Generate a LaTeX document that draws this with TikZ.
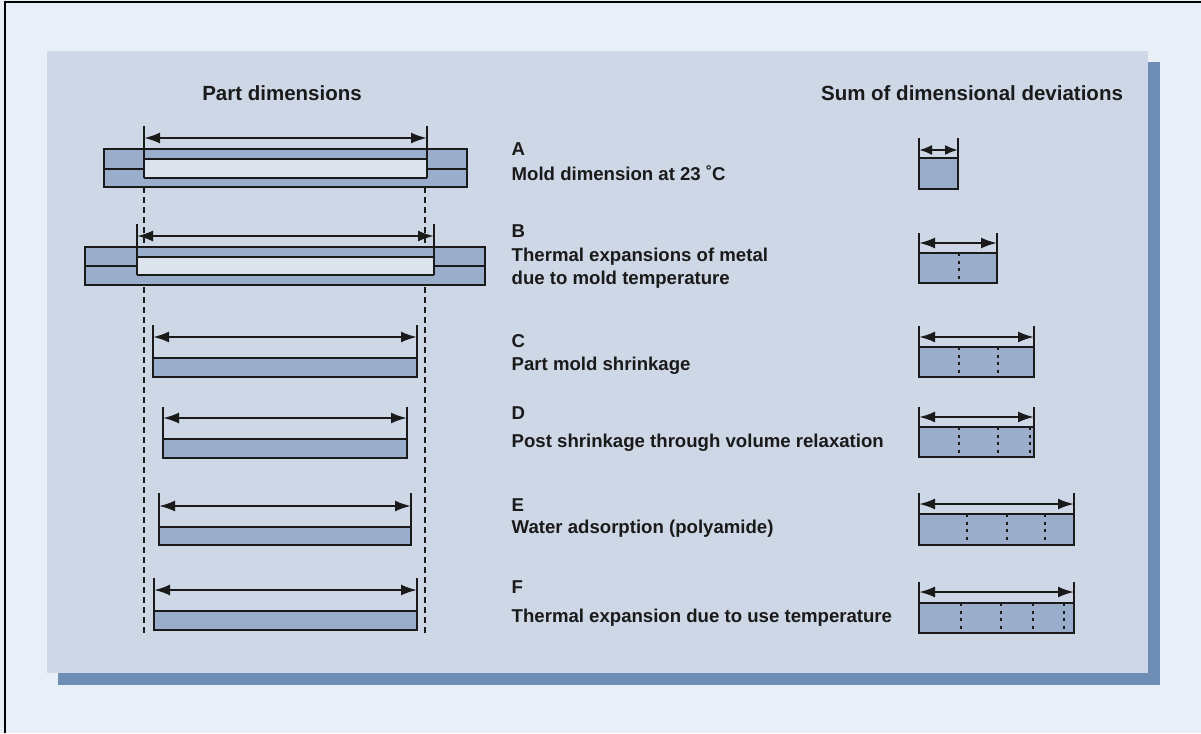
\documentclass[tikz,border=0pt]{standalone}
\usepackage{fontspec}
\setmainfont{Liberation Sans}
\usetikzlibrary{arrows.meta}

\definecolor{pagebg}{HTML}{E9EFF7}
\definecolor{panelbg}{HTML}{CDD7E6}
\definecolor{panelshadow}{HTML}{6F8EB6}
\definecolor{barblue}{HTML}{9AAECB}
\definecolor{cavity}{HTML}{DDE3ED}
\definecolor{ink}{HTML}{1A1A1A}

\tikzset{
  outline/.style={draw=ink, line width=2.2pt, line join=miter},
  extline/.style={draw=ink, line width=2pt},
  guide/.style={draw=ink, line width=2pt, dash pattern=on 6pt off 4pt},
  divider/.style={draw=ink, line width=2.4pt, dash pattern=on 3pt off 4.5pt},
  dimarrow/.style={draw=ink, line width=2.2pt, {Latex[length=16pt,width=11pt]}-{Latex[length=16pt,width=11pt]}},
  smallarrow/.style={draw=ink, line width=2.2pt, {Latex[length=13pt,width=10pt]}-{Latex[length=13pt,width=10pt]}},
  heading/.style={inner sep=0pt, font=\fontsize{20.5}{24}\selectfont\bfseries, text=ink},
  body/.style={inner sep=0pt, font=\fontsize{18.6}{22}\selectfont\bfseries, text=ink, anchor=base west},
}

% Bar with dimension arrow: #1 name, #2 left x, #3 right x, #4 extension top, #5 arrow y, #6 bar top, #7 bar bottom
\newcommand{\DimBar}[8][dimarrow]{%
  \fill[barblue] (#3,#7) rectangle (#4,#8);
  \draw[outline] (#3,#7) -- (#4,#7);
  \draw[outline] (#3,#5) -- (#3,#8) -- (#4,#8) -- (#4,#5);
  \coordinate (#2-l) at (#3,#6);
  \coordinate (#2-r) at (#4,#6);
  \draw[#1] (#2-l) -- (#2-r);
}

% Mould halves: #1/#2 outer x, #3/#4 outer y, #5 parting line y, #6/#7 cavity x, #8 cavity top, #9 cavity bottom
\newcommand{\Mould}[9]{%
  \fill[barblue] (#1,#3) rectangle (#2,#4);
  \fill[cavity] (#6,#8) rectangle (#7,#9);
  \draw[outline] (#1,#3) rectangle (#2,#4);
  \draw[outline] (#6,#8) -- (#7,#8);
  \draw[outline] (#6,#9) -- (#7,#9);
  \draw[outline] (#1,#5) -- (#6,#5);
  \draw[outline] (#7,#5) -- (#2,#5);
}

\begin{document}
\begin{tikzpicture}[x=1pt,y=-1pt]
  \useasboundingbox (0,0) rectangle (1201,733);
  \fill[pagebg] (0,0) rectangle (1201,733);
  \draw[black, line width=2.4pt] (5,733) -- (5,2) -- (1201,2);

  % panel with its drop shadow
  \fill[panelshadow] (58,62) rectangle (1160,685);
  \fill[panelbg] (47,51) rectangle (1148,673);

  % headings
  \node[heading, anchor=base] (hpart) at (282,101) {Part dimensions};
  \node[heading, anchor=base] (hsum) at (972,101) {Sum of dimensional deviations};

  % guide lines carried down from the mould cavity
  \coordinate (gl-top) at (144,187);
  \coordinate (gl-bot) at (144,636);
  \coordinate (gr-top) at (425,187);
  \coordinate (gr-bot) at (425,636);
  \draw[guide] (gl-top) -- (gl-bot);
  \draw[guide] (gr-top) -- (gr-bot);

  % A: mould at 23 C
  \Mould{104}{467}{149}{187}{169}{144}{427}{159}{178}
  \draw[extline] (144,126) -- (144,178);
  \draw[extline] (427,126) -- (427,178);
  \coordinate (ma-l) at (144,138);
  \coordinate (ma-r) at (427,138);
  \draw[dimarrow] (ma-l) -- (ma-r);

  % B: mould at mould temperature
  \Mould{85}{485}{247}{285}{266}{137}{434}{257}{275}
  \draw[extline] (137,224) -- (137,275);
  \draw[extline] (434,224) -- (434,275);
  \coordinate (mb-l) at (137,236);
  \coordinate (mb-r) at (434,236);
  \draw[dimarrow] (mb-l) -- (mb-r);

  % C-F: moulded parts
  \DimBar{pc}{153}{417}{325}{337}{358}{377}
  \DimBar{pd}{163}{407}{407}{418}{439}{458}
  \DimBar{pe}{159}{411}{493}{506}{527}{545}
  \DimBar{pf}{154}{417}{578}{590}{611}{630}

  % deviation sums
  \DimBar[smallarrow]{da}{919}{958}{138}{150}{158}{189}
  \DimBar{db}{919}{997}{233}{243}{253}{283}
  \draw[divider] (959,253) -- (959,283);
  \DimBar{dc}{919}{1034}{326}{337}{347}{377}
  \foreach \xd in {959,998} \draw[divider] (\xd,347) -- (\xd,377);
  \DimBar{dd}{919}{1034}{407}{417}{427}{457}
  \foreach \xd in {959,998,1030} \draw[divider] (\xd,427) -- (\xd,457);
  \DimBar{de}{919}{1074}{493}{504}{514}{545}
  \foreach \xd in {967,1007,1045} \draw[divider] (\xd,514) -- (\xd,545);
  \DimBar{df}{919}{1074}{582}{592}{603}{633}
  \foreach \xd in {961,1001,1033,1064} \draw[divider] (\xd,603) -- (\xd,633);

  % captions
  \node[body] (ta) at (511.5,155) {A};
  \node[body] (ta1) at (511.5,180) {Mold dimension at 23 \char"02DA C};
  \node[body] (tb) at (511.5,237) {B};
  \node[body] (tb1) at (511.5,261) {Thermal expansions of metal};
  \node[body] (tb2) at (511.5,284) {due to mold temperature};
  \node[body] (tc) at (511.5,347) {C};
  \node[body] (tc1) at (511.5,370) {Part mold shrinkage};
  \node[body] (td) at (511.5,419) {D};
  \node[body] (td1) at (511.5,447) {Post shrinkage through volume relaxation};
  \node[body] (te) at (511.5,511) {E};
  \node[body] (te1) at (511.5,533) {Water adsorption (polyamide)};
  \node[body] (tf) at (511.5,593) {F};
  \node[body] (tf1) at (511.5,622) {Thermal expansion due to use temperature};
\end{tikzpicture}
\end{document}
